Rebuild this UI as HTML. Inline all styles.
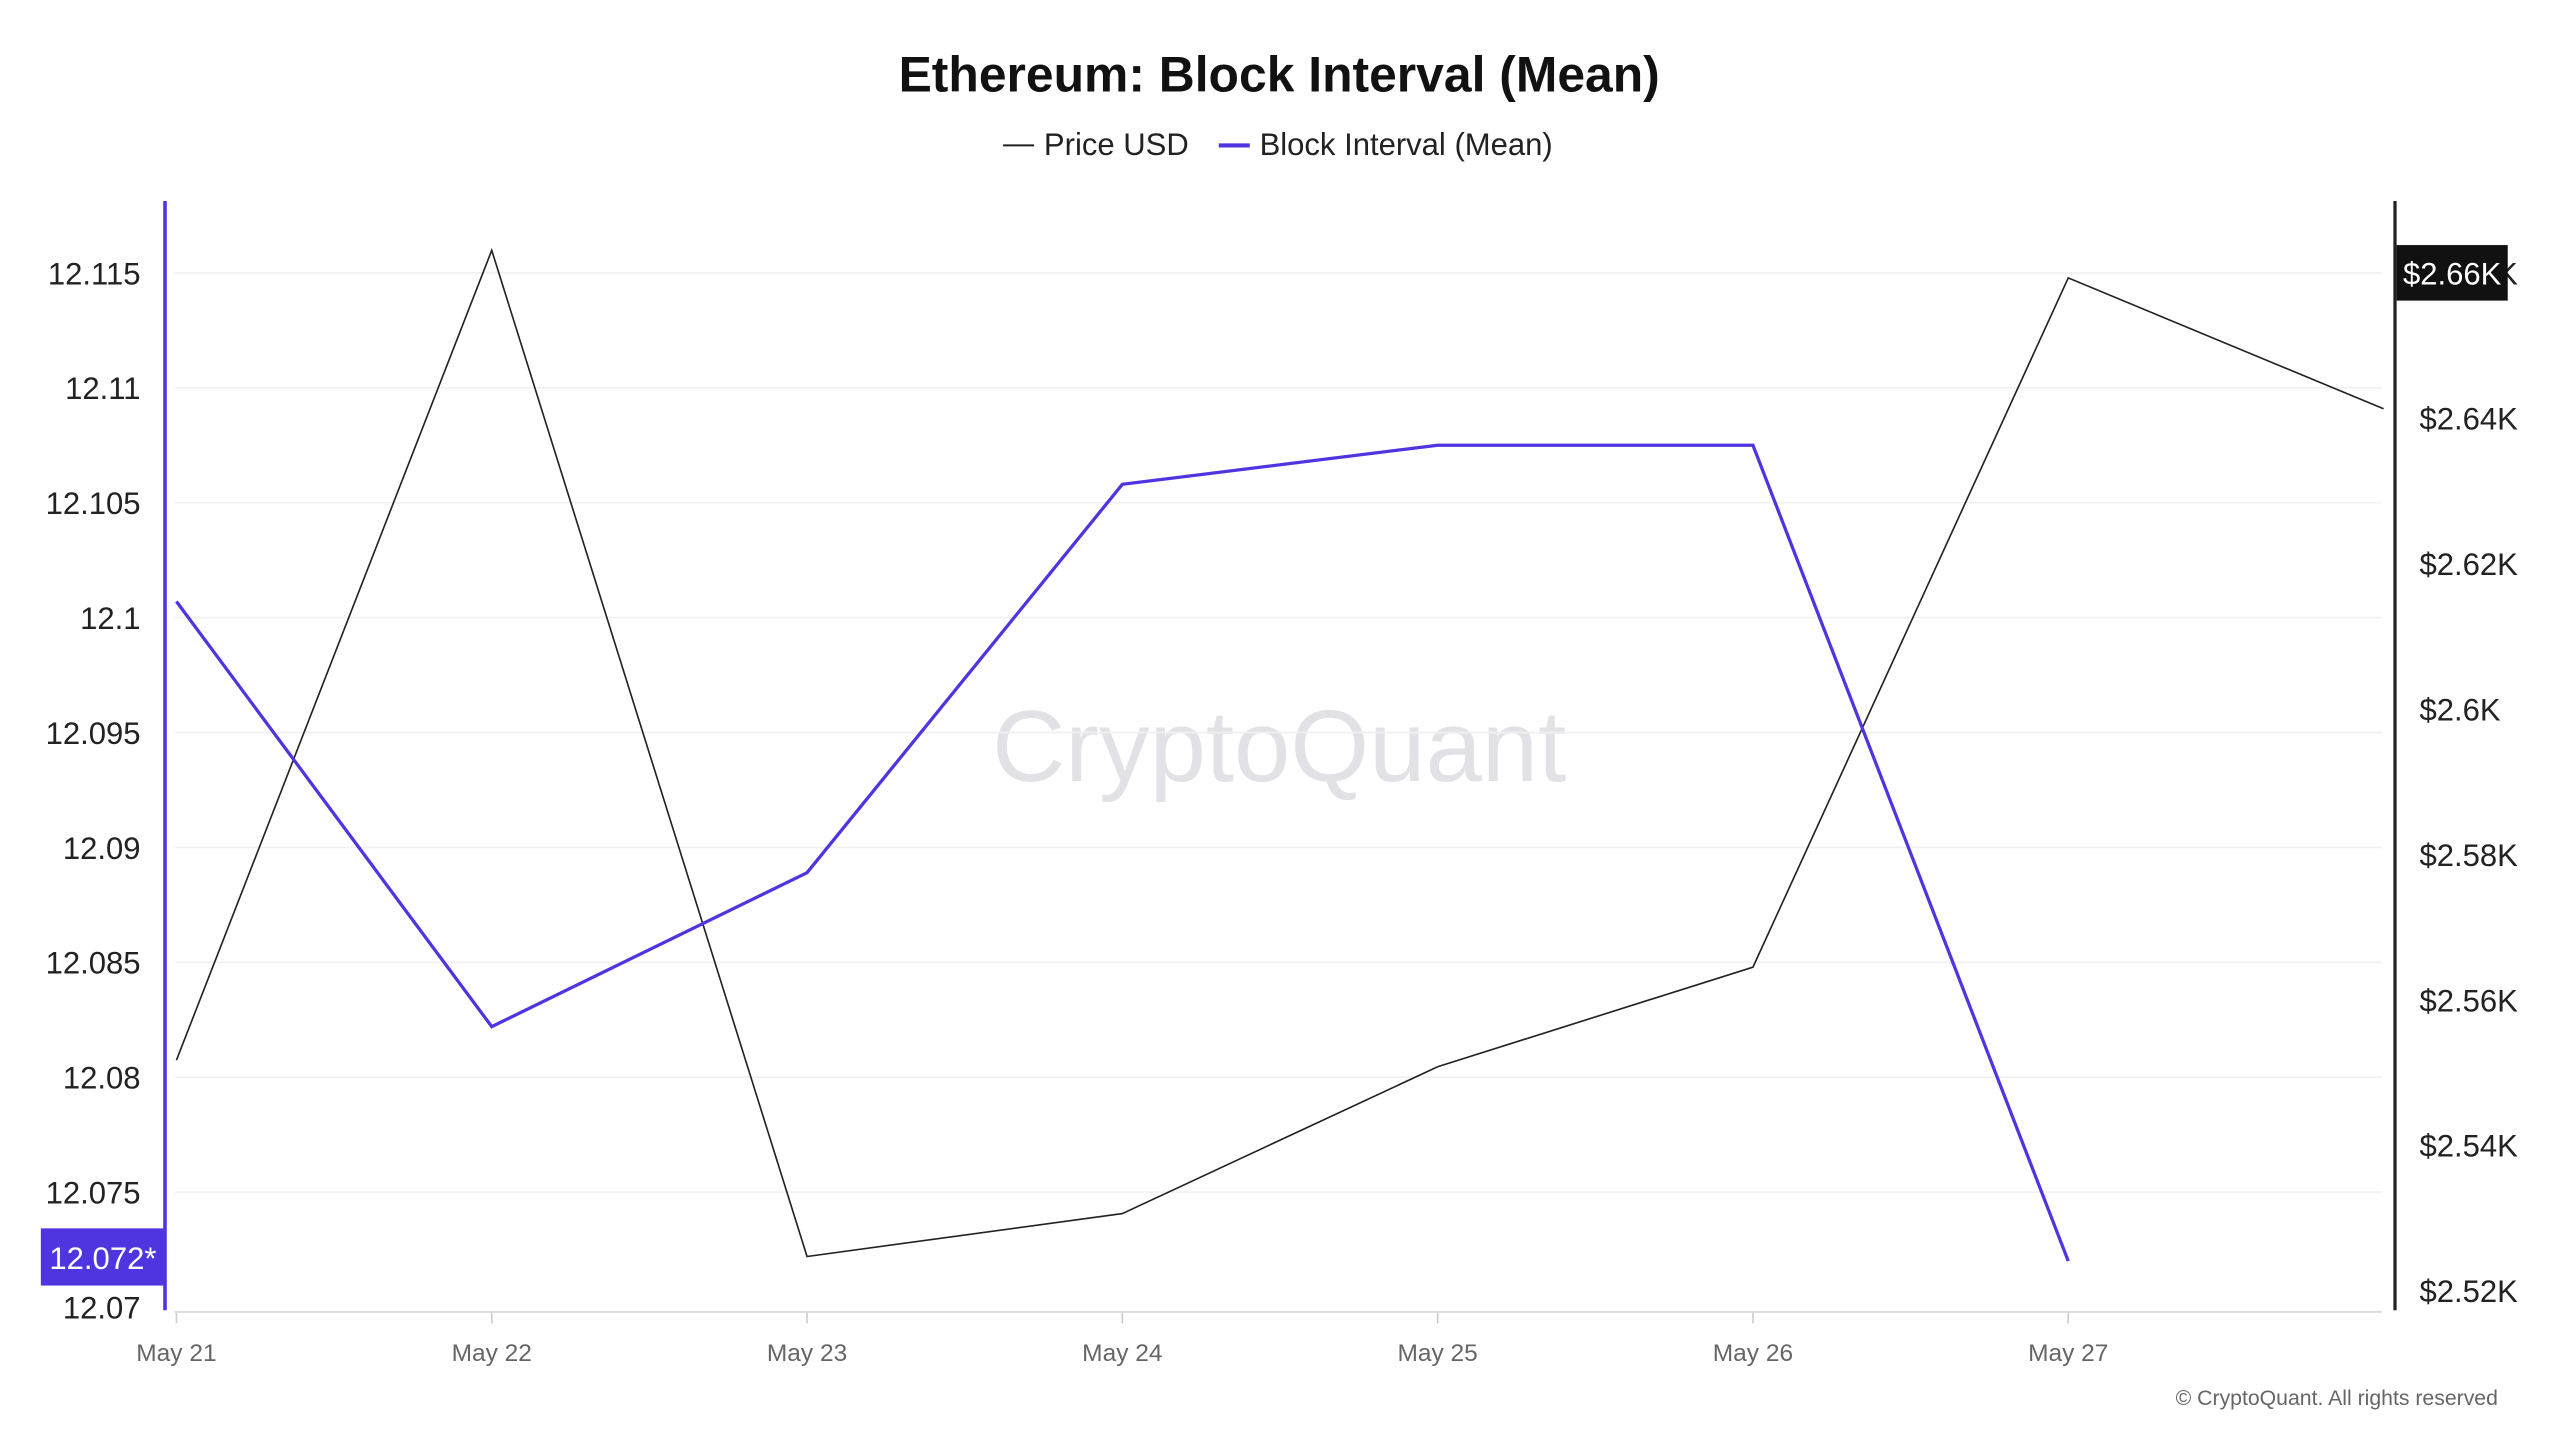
<!DOCTYPE html>
<html><head><meta charset="utf-8"><style>
html,body{margin:0;padding:0;background:#fff;}
svg{display:block;font-family:"Liberation Sans",sans-serif;}
</style></head><body>
<svg id="chart" width="2560" height="1440" viewBox="0 0 1567 881.4" preserveAspectRatio="none" xmlns="http://www.w3.org/2000/svg">
<rect width="1567" height="881.4" fill="#fff"/>
<text x="783" y="56" text-anchor="middle" font-size="30.5" font-weight="bold" fill="#111">Ethereum: Block Interval (Mean)</text>
<g>
<g><line x1="614" y1="89" x2="633" y2="89" stroke="#222" stroke-width="1.2"/><text x="639" y="95" font-size="19" fill="#222">Price USD</text></g>
<g><line x1="746" y1="89" x2="765" y2="89" stroke="#4f35e0" stroke-width="2.5"/><text x="771" y="95" font-size="19" fill="#222">Block Interval (Mean)</text></g>
</g>
<text x="783" y="478" text-anchor="middle" font-size="62" fill="#e2e2e6">CryptoQuant</text>
<g id="grid"></g>
<g id="series"></g>
<g id="axes"></g>
<text x="1529" y="860" text-anchor="end" font-size="13" fill="#666">© CryptoQuant. All rights reserved</text>
</svg>
<script>
const categories=["May 21","May 22","May 23","May 24","May 25","May 26","May 27","May 28"];
const priceValues=[2551.7,2663.1,2524.7,2530.6,2550.8,2564.5,2659.3,2641.3];
const intervalValues=[12.1007,12.0822,12.0889,12.1058,12.1075,12.1075,12.0720];
const leftTicks=[12.07,12.075,12.08,12.085,12.09,12.095,12.1,12.105,12.11,12.115];
const leftTickLabels=["12.07","12.075","12.08","12.085","12.09","12.095","12.1","12.105","12.11","12.115"];
const rightTicks=[2520,2540,2560,2580,2600,2620,2640,2660];
const rightTickLabels=["$2.52K","$2.54K","$2.56K","$2.58K","$2.6K","$2.62K","$2.64K","$2.66K"];
const xLabelCount=7;

const NS="http://www.w3.org/2000/svg";
function mk(tag,attrs,parent,text){const e=document.createElementNS(NS,tag);for(const k in attrs)e.setAttribute(k,attrs[k]);if(text!==undefined)e.textContent=text;parent.appendChild(e);return e;}
const xScale=i=>108+i*193;
const yLeft=v=>800-(v-12.07)/0.005*70.33;
const yRight=v=>790-(v-2520)/20*89;
const grid=document.getElementById('grid'),series=document.getElementById('series'),axes=document.getElementById('axes');

leftTicks.forEach((t,i)=>{
  const y=yLeft(t);
  if(i>0){const g=mk('line',{x1:107,x2:1458,y1:y,y2:y,stroke:'#f0f0f0','stroke-width':1},grid);
  
  }
  const l=mk('text',{x:86,y:y+7,'text-anchor':'end','font-size':19,fill:'#222'},axes,leftTickLabels[i]);
  
  
});
rightTicks.forEach((t,i)=>{
  const l=mk('text',{x:1481,y:yRight(t)+7,'font-size':19,fill:'#222'},axes,rightTickLabels[i]);
  
  
});
for(let i=0;i<xLabelCount;i++){
  const x=xScale(i);
  const tk=mk('line',{x1:x,x2:x,y1:803,y2:810,stroke:'#ccc','stroke-width':1},axes);
  
  
  const l=mk('text',{x:x,y:833,'text-anchor':'middle','font-size':15,fill:'#666'},axes,categories[i]);
  
  
}
const base=mk('line',{x1:107,x2:1458,y1:803,y2:803,stroke:'#ddd','stroke-width':1.2},axes);


const la=mk('line',{x1:101,x2:101,y1:123,y2:802,stroke:'#4f35e0','stroke-width':2.2},axes);


const ra=mk('line',{x1:1466,x2:1466,y1:123,y2:802,stroke:'#222','stroke-width':2},axes);



const pp=mk('polyline',{points:priceValues.map((v,i)=>xScale(i)+','+yRight(v)).join(' '),fill:'none',stroke:'#222','stroke-width':1},series);


const bp=mk('polyline',{points:intervalValues.map((v,i)=>xScale(i)+','+yLeft(v)).join(' '),fill:'none',stroke:'#4f35e0','stroke-width':2},series);



const lastI=intervalValues[intervalValues.length-1];
const ly=yLeft(lastI);
const lb=mk('g',{},axes);


mk('rect',{x:25,y:ly-20,width:76,height:35,fill:'#4f35e0'},lb);
mk('text',{x:63,y:ly+5,'text-anchor':'middle','font-size':19,fill:'#fff'},lb,lastI.toFixed(3)+'*');

const rb=mk('g',{},axes);


const ry=yRight(2660);
mk('rect',{x:1467,y:ry-17,width:68,height:34,fill:'#111'},rb);
mk('text',{x:1501,y:ry+7,'text-anchor':'middle','font-size':19,fill:'#fff'},rb,'$2.66K');
</script>
</body></html>
